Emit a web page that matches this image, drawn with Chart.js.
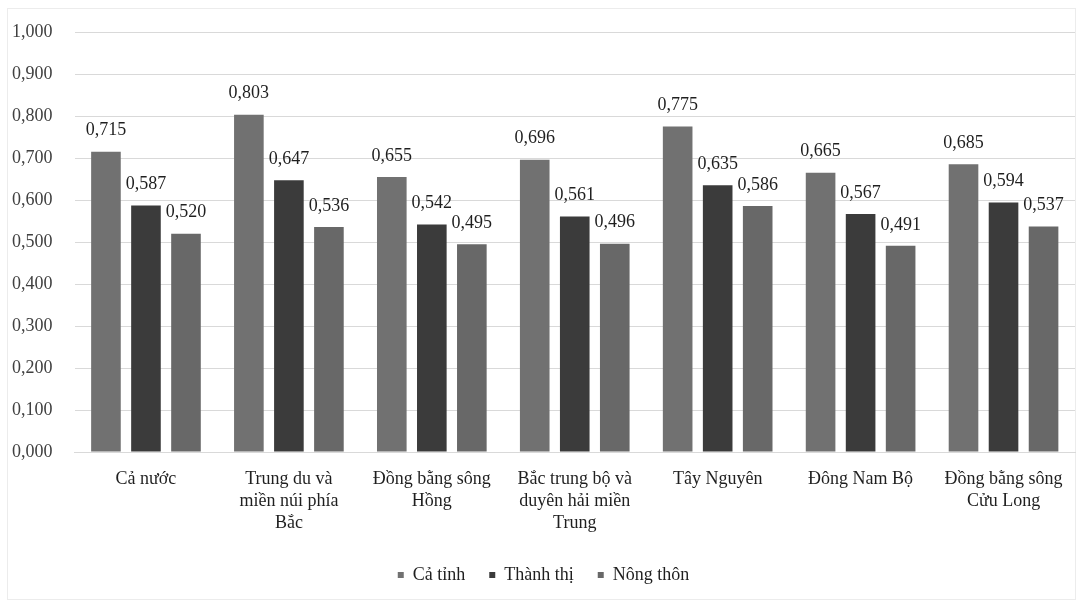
<!DOCTYPE html>
<html>
<head>
<meta charset="utf-8">
<script src="https://cdn.jsdelivr.net/npm/chart.js@4/dist/chart.umd.min.js"></script>
<style>
    html, body {
        margin: 0;
        padding: 0;
        background: #ffffff;
    }

    #frame {
        position: absolute;
        left: 7px;
        top: 8px;
        width: 1069px;
        height: 592px;
        border: 1px solid #ececec;
        box-sizing: border-box;
    }

    #wrap {
        position: absolute;
        left: 0;
        top: 0;
        width: 1081px;
        height: 602px;
    }
</style>
</head>
<body>
<div id="frame"></div>
<div id="wrap">
    <canvas id="regionChart"></canvas>
</div>
<script>
// ======================================
// Data
// ======================================

const categories = [
    ["Cả nước"],
    ["Trung du và", "miền núi phía", "Bắc"],
    ["Đồng bằng sông", "Hồng"],
    ["Bắc trung bộ và", "duyên hải miền", "Trung"],
    ["Tây Nguyên"],
    ["Đông Nam Bộ"],
    ["Đồng bằng sông", "Cửu Long"]
];

const seriesNames = ["Cả tỉnh", "Thành thị", "Nông thôn"];

const caTinh = [0.715, 0.803, 0.655, 0.696, 0.775, 0.665, 0.685];

const thanhThi = [0.587, 0.647, 0.542, 0.561, 0.635, 0.567, 0.594];

const nongThon = [0.520, 0.536, 0.495, 0.496, 0.586, 0.491, 0.537];

const seriesColors = ["#717171", "#3b3b3b", "#686868"];

// ======================================
// Helpers
// ======================================

const FONT = "'Liberation Serif', 'Times New Roman', serif";

function formatValue(v) {

    return Number(v).toFixed(3).replace(".", ",");

}

// draws the value above each bar
const valueLabels = {

    id: "valueLabels",

    afterDatasetsDraw(chart) {

        const ctx = chart.ctx;

        ctx.save();

        ctx.font = "18px " + FONT;

        ctx.fillStyle = "#1f1f1f";

        ctx.textAlign = "center";

        ctx.textBaseline = "bottom";

        chart.data.datasets.forEach((ds, i) => {

            const meta = chart.getDatasetMeta(i);

            meta.data.forEach((bar, j) => {

                ctx.fillText(formatValue(ds.data[j]), bar.x, bar.y - 12);

            });

        });

        ctx.restore();

    }

};

// ======================================
// Chart
// ======================================

const chart = new Chart(document.getElementById("regionChart"), {

    type: "bar",

    data: {

        labels: categories,

        datasets: [caTinh, thanhThi, nongThon].map((values, i) => ({

            label: seriesNames[i],

            data: values,

            backgroundColor: seriesColors[i],

            borderWidth: 0,

            categoryPercentage: 0.84,

            barPercentage: 0.74

        }))

    },

    options: {

        responsive: true,

        maintainAspectRatio: false,

        animation: false,

        devicePixelRatio: 1,

        layout: {

            padding: { left: 12, right: 6, top: 32, bottom: 8 }

        },

        plugins: {

            legend: {

                position: "bottom",

                labels: {

                    boxWidth: 6,

                    boxHeight: 6,

                    padding: 24,

                    color: "#1f1f1f",

                    font: { family: FONT, size: 18 }

                }

            },

            tooltip: { enabled: false }

        },

        scales: {

            x: {

                grid: { display: false },

                border: { color: "#d9d9d9" },

                ticks: {

                    color: "#1f1f1f",

                    maxRotation: 0,

                    autoSkip: false,

                    padding: 8,

                    font: { family: FONT, size: 18, lineHeight: 1.22 }

                }

            },

            y: {

                min: 0,

                max: 1,

                grid: { color: "#d9d9d9", drawTicks: false },

                border: { display: false },

                ticks: {

                    stepSize: 0.1,

                    padding: 11,

                    crossAlign: "far",

                    color: "#404040",

                    font: { family: FONT, size: 18 },

                    callback: (v) => formatValue(v)

                }

            }

        }

    },

    plugins: [valueLabels]

});
</script>
</body>
</html>
